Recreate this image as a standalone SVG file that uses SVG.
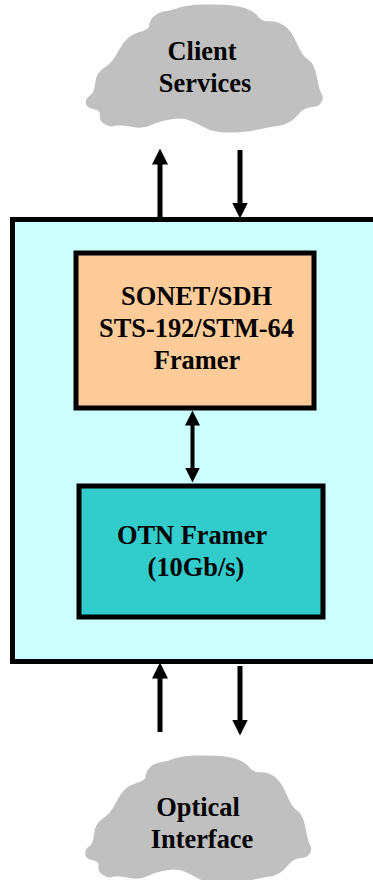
<svg xmlns="http://www.w3.org/2000/svg" xmlns:xlink="http://www.w3.org/1999/xlink" width="373" height="880" viewBox="0 0 373 880">
<style>
.lbl{font-family:"Liberation Serif","Times New Roman",serif;font-weight:bold;font-size:26.4px;fill:#000;text-anchor:middle}
.cloud{fill:#c0c0c0;stroke:#c0c0c0;stroke-width:5;stroke-linejoin:round}
.box{stroke:#000;stroke-width:5}
.arrow{stroke:#000;stroke-width:5;fill:none}
</style>
<defs>
<marker id="head" markerUnits="userSpaceOnUse" markerWidth="16" markerHeight="16" refX="0.5" refY="8" orient="auto"><path d="M0,0L16,8L0,16Z" fill="#000"/></marker>
<marker id="head2" markerUnits="userSpaceOnUse" markerWidth="15" markerHeight="16" refX="0.5" refY="8" orient="auto-start-reverse"><path d="M0,0.5L15,8L0,15.5Z" fill="#000"/></marker>
<path id="cloudShape" d="M240,78Q240,65 252,52Q265,40 282,37Q300,35 325,26Q350,18 390,16Q430,15 465,17Q500,20 525,27Q550,35 562,51Q575,68 598,66Q620,65 640,78Q660,90 678,130Q695,170 712,180Q730,190 738,230Q745,270 752,282Q760,295 752,306Q745,318 722,319Q700,320 680,345Q660,370 625,375Q590,380 555,388Q520,395 475,395Q430,395 408,382Q385,370 362,360Q340,350 305,355Q270,360 245,372Q220,385 185,378Q150,370 135,375Q120,380 105,370Q90,360 92,345Q95,330 72,325Q50,320 50,308Q50,295 62,288Q75,280 78,250Q80,220 105,205Q130,190 150,150Q170,110 205,100Q240,90 240,78Z"/>
</defs>
<rect width="373" height="880" fill="#fff"/>
<g id="client-services">
<use xlink:href="#cloudShape" href="#cloudShape" class="cloud" transform="translate(70,0) scale(0.3333)"/>
<text class="lbl" x="202" y="60">Client</text>
<text class="lbl" x="205" y="92">Services</text>
</g>
<g id="container"><rect class="box" x="12.5" y="219.5" width="400" height="442" fill="#ccffff"/></g>
<g id="sonet-framer">
<rect class="box" x="76" y="253" width="238" height="155" fill="#ffcc99"/>
<text class="lbl" x="196.5" y="305">SONET/SDH</text>
<text class="lbl" x="196.5" y="337">STS-192/STM-64</text>
<text class="lbl" x="197" y="369">Framer</text>
</g>
<g id="otn-framer">
<rect class="box" x="79" y="486" width="244" height="131" fill="#33cccc"/>
<text class="lbl" x="192" y="544">OTN Framer</text>
<text class="lbl" x="196" y="576">(10Gb/s)</text>
</g>
<g id="optical-interface">
<use xlink:href="#cloudShape" href="#cloudShape" class="cloud" transform="translate(70,751) scale(0.318,0.3333)"/>
<text class="lbl" x="198" y="816">Optical</text>
<text class="lbl" x="202" y="848">Interface</text>
</g>
<g id="connectors">
<line class="arrow" x1="160" y1="218" x2="160" y2="164" marker-end="url(#head)"/>
<line class="arrow" x1="240" y1="150" x2="240" y2="203" marker-end="url(#head)"/>
<line class="arrow" x1="160" y1="732" x2="160" y2="678" marker-end="url(#head)"/>
<line class="arrow" x1="240" y1="666" x2="240" y2="720" marker-end="url(#head)"/>
<line class="arrow" style="stroke-width:4" x1="192.5" y1="425" x2="192.5" y2="468" marker-start="url(#head2)" marker-end="url(#head2)"/>
</g>
</svg>
